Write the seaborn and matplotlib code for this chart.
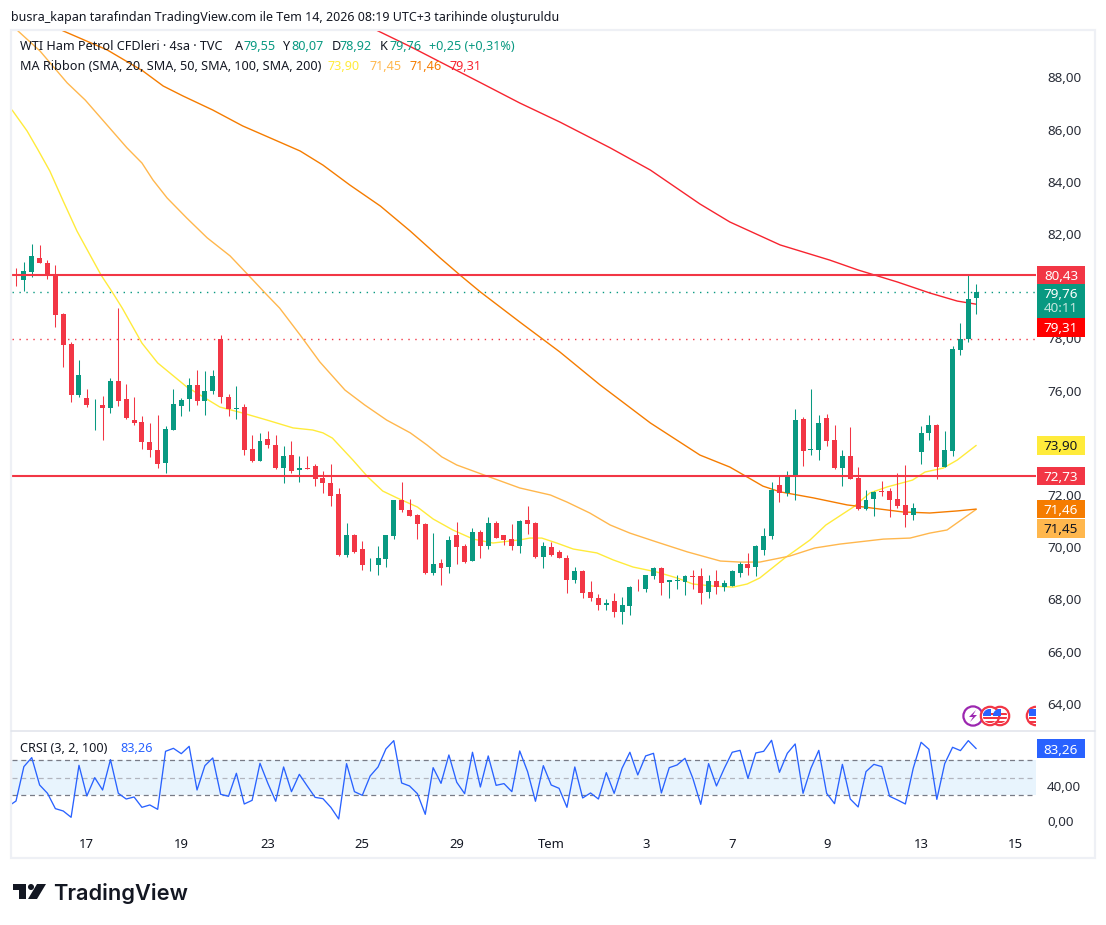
"""WTI crude 4h chart with MA ribbon and CRSI pane, TradingView look."""

import matplotlib.pyplot as plt
import numpy as np
import pandas as pd
import seaborn as sns
from matplotlib.patches import Circle, Polygon, Rectangle
from matplotlib.ticker import FuncFormatter

UP = "#089981"
DOWN = "#f23645"
TEXT = "#131722"
SCALE_TEXT = "#2a2e39"
BLUE = "#2962ff"
MA_COLORS = ["#ffeb3b", "#ffb74d", "#f57c00", "#f7242f"]
FONT = "Noto Sans"
SCALE_SIZE = 9.7

opens = [80.24, 80.22, 80.56, 81.08, 80.89, 80.43, 78.94, 77.78, 75.85, 75.73,
         75.43, 75.46, 75.32, 76.38, 75.69, 74.89, 74.81, 74.04, 73.74, 73.21,
         74.50, 75.40, 75.66, 76.22, 75.61, 76.00, 77.99, 75.77, 75.28, 75.38,
         73.78, 73.29, 74.16, 73.93, 73.05, 73.55, 72.97, 73.05, 73.12, 72.67,
         72.47, 72.02, 69.72, 70.48, 69.95, 69.34, 69.30, 69.53, 70.41, 71.79,
         71.44, 71.25, 70.87, 69.03, 69.41, 69.26, 70.48, 70.03, 69.49, 70.60,
         70.06, 70.91, 70.45, 70.33, 70.06, 71.06, 70.91, 69.64, 69.99, 69.80,
         69.60, 68.76, 69.07, 68.30, 68.04, 67.77, 67.92, 67.50, 67.73, 68.49,
         68.38, 68.88, 69.22, 68.65, 68.72, 68.65, 68.88, 68.88, 68.30, 68.72,
         68.49, 68.53, 69.03, 69.37, 69.26, 69.91, 70.41, 72.40, 72.09, 72.76,
         74.92, 73.74, 73.74, 74.96, 74.12, 73.05, 73.51, 72.67, 71.48, 71.83,
         72.17, 72.17, 71.86, 71.60, 71.25, 73.66, 74.39, 74.70, 73.09, 73.70,
         77.56, 77.99, 79.55]
closes = [80.22, 80.59, 81.16, 80.87, 80.43, 78.88, 77.73, 75.85, 76.61, 75.43,
          75.46, 75.32, 76.38, 75.61, 74.96, 74.77, 74.02, 73.71, 73.18, 74.54,
          75.50, 75.65, 76.22, 75.61, 76.00, 76.57, 75.74, 75.28, 75.35, 73.71,
          73.29, 74.08, 73.90, 73.05, 73.51, 72.93, 73.05, 73.01, 72.63, 72.47,
          71.98, 69.72, 70.48, 69.83, 69.30, 69.37, 69.57, 70.45, 71.79, 71.44,
          71.21, 70.87, 69.03, 69.37, 69.22, 70.26, 69.99, 69.45, 70.60, 70.03,
          70.91, 70.37, 70.29, 70.06, 71.02, 70.87, 69.64, 70.03, 69.72, 69.57,
          68.76, 69.07, 68.23, 68.04, 67.77, 67.88, 67.50, 67.77, 68.46, 68.46,
          68.92, 69.22, 68.61, 68.76, 68.76, 68.88, 68.84, 68.26, 68.69, 68.49,
          68.61, 69.07, 69.37, 69.22, 70.03, 70.41, 72.21, 72.09, 72.78, 74.89,
          73.70, 73.78, 74.77, 74.08, 73.05, 73.51, 72.63, 71.48, 71.79, 72.13,
          72.13, 71.79, 71.56, 71.25, 71.52, 74.39, 74.70, 73.09, 73.74, 77.60,
          77.99, 79.52, 79.76]
highs = [80.69, 80.91, 81.62, 81.58, 81.01, 80.82, 78.97, 77.85, 77.18, 76.07,
         75.69, 75.80, 76.48, 79.17, 76.26, 75.77, 75.04, 74.77, 75.08, 74.66,
         76.07, 75.73, 76.48, 76.80, 76.76, 76.80, 78.14, 75.88, 76.19, 75.50,
         74.31, 74.39, 74.47, 74.31, 73.89, 74.08, 73.51, 73.51, 73.20, 72.93,
         73.20, 72.28, 70.94, 70.52, 70.22, 69.60, 70.06, 70.48, 71.82, 72.51,
         71.86, 71.29, 70.91, 70.56, 69.53, 70.41, 70.98, 70.14, 70.75, 70.64,
         71.14, 71.02, 70.48, 70.87, 71.06, 71.59, 70.98, 70.18, 70.18, 69.91,
         69.72, 69.26, 69.11, 68.72, 68.19, 68.00, 68.23, 68.11, 68.53, 68.80,
         68.92, 69.26, 69.26, 68.76, 68.95, 68.92, 69.14, 69.22, 68.95, 69.14,
         68.76, 69.11, 69.45, 69.76, 70.10, 70.72, 72.51, 72.74, 72.93, 75.31,
         75.00, 76.07, 75.08, 75.12, 74.70, 73.74, 74.62, 73.09, 72.21, 72.17,
         72.55, 72.28, 72.86, 73.16, 71.71, 74.66, 75.08, 74.73, 74.46, 77.72,
         78.60, 80.43, 80.07]
lows = [79.99, 79.80, 80.37, 80.87, 80.29, 78.42, 76.89, 75.55, 75.74, 75.36,
        74.48, 74.10, 75.15, 75.40, 74.92, 74.67, 73.75, 73.44, 73.05, 72.83,
        74.50, 75.01, 75.20, 75.43, 75.05, 75.88, 75.51, 75.01, 74.90, 73.52,
        73.25, 73.29, 73.79, 73.01, 72.47, 72.86, 72.51, 73.01, 72.36, 72.09,
        71.56, 69.68, 69.64, 69.76, 69.11, 69.07, 68.92, 69.26, 70.33, 71.36,
        71.21, 70.33, 68.99, 68.95, 68.57, 69.03, 69.34, 69.41, 69.49, 69.60,
        69.95, 70.37, 70.10, 69.91, 69.76, 70.52, 69.57, 69.22, 69.68, 69.57,
        68.23, 68.61, 68.04, 67.92, 67.58, 67.58, 67.31, 67.04, 67.42, 68.34,
        68.30, 68.80, 68.15, 68.07, 68.38, 68.15, 68.38, 67.81, 68.07, 68.19,
        68.34, 68.53, 68.84, 68.95, 68.88, 69.72, 70.33, 71.75, 71.98, 71.80,
        73.13, 73.55, 73.36, 73.89, 73.01, 72.36, 72.63, 71.44, 71.44, 71.21,
        71.98, 71.17, 71.52, 70.79, 71.06, 73.20, 74.12, 72.63, 73.09, 73.51,
        77.37, 77.87, 78.92]

# moving averages, read at the bars where the curves bend
ma20_bars = [-0.5, 1.4, 2.8, 4.3, 6.0, 7.75, 9.4, 10.8, 12.3, 13.5, 16.0, 18.0,
             21.7, 25.9, 28.8, 31.9, 35.2, 37.7, 39.0, 40.2, 42.8, 44.7, 46.6,
             48.4, 51.0, 53.0, 55.5, 58.1, 60.6, 64.0, 65.3, 66.8, 68.7, 70.8,
             73.8, 75.9, 78.4, 81.4, 84.0, 86.0, 88.6, 91.1, 92.9, 94.5, 97.7,
             100.9, 102.9, 106.4, 108.5, 110.7, 113.9, 115.5, 117.8, 119.6, 122]
ma20_values = [86.75, 85.95, 85.22, 84.41, 83.26, 82.11, 81.20, 80.43, 79.74,
               79.16, 77.82, 77.06, 76.14, 75.37, 75.14, 74.87, 74.57, 74.49,
               74.38, 74.18, 73.34, 72.69, 72.15, 71.89, 71.54, 71.08, 70.66,
               70.31, 70.16, 70.28, 70.35, 70.35, 70.16, 69.93, 69.78, 69.51,
               69.24, 69.05, 68.82, 68.59, 68.51, 68.47, 68.59, 68.82, 69.59,
               70.28, 70.85, 71.54, 72.08, 72.31, 72.57, 72.88, 73.03, 73.34,
               73.90]
ma50_bars = [-1, 0.25, 3.05, 6.5, 8.8, 11.9, 14.1, 16, 17.4, 19.2, 21.7, 24.3,
             27.2, 29.5, 31.9, 33.5, 36.1, 38.6, 41.8, 44.3, 47.1, 50.1, 52.2,
             54.1, 56.0, 59.8, 64.0, 67.9, 70.0, 72.9, 75.5, 78.0, 81.4, 85.3,
             89.5, 92.0, 94.5, 98.3, 101.5, 104.7, 110.2, 113.6, 116.1, 118.3,
             122]
ma50_values = [90.20, 89.78, 89.01, 87.79, 87.13, 86.06, 85.30, 84.72, 84.07,
               83.38, 82.61, 81.85, 81.16, 80.43, 79.66, 79.16, 78.13, 77.10,
               76.02, 75.45, 74.87, 74.38, 73.92, 73.46, 73.15, 72.73, 72.27,
               72.00, 71.73, 71.31, 70.85, 70.54, 70.20, 69.82, 69.47, 69.43,
               69.43, 69.66, 69.97, 70.12, 70.31, 70.35, 70.54, 70.66, 71.45]
ma100_bars = [4.3, 6.0, 11.6, 16.1, 18.7, 21.2, 25.0, 28.8, 32.3, 36.1, 39.0,
              42.4, 46.3, 50.1, 53.9, 56.4, 59.0, 64.0, 69.1, 74.2, 80.6, 86.9,
              90.7, 92.9, 94.9, 97.1, 101.3, 105.6, 109.8, 112.7, 116.1, 119.6,
              122]
ma100_values = [90.05, 89.78, 89.05, 88.25, 87.67, 87.29, 86.75, 86.14, 85.68,
                85.18, 84.64, 83.88, 83.07, 82.11, 81.08, 80.43, 79.78, 78.63,
                77.48, 76.22, 74.76, 73.53, 73.07, 72.69, 72.34, 72.12, 71.89,
                71.62, 71.46, 71.35, 71.31, 71.39, 71.46]
ma200_bars = [44.3, 46.0, 50.1, 59.2, 64.0, 69.1, 75.5, 80.6, 86.9, 90.7, 97.1,
              103.4, 107.0, 112.0, 116.1, 119.6, 122]
ma200_values = [90.05, 89.78, 89.18, 87.77, 87.02, 86.29, 85.30, 84.45, 83.15,
                82.46, 81.58, 81.00, 80.62, 80.16, 79.74, 79.43, 79.31]

crsi_values = [17.3, 23.4, 62.7, 73.0, 41.7, 32.2, 14.7, 12.0, 4.8, 64.2, 29.2,
               50.1, 36.0, 70.7, 32.2, 25.7, 28.0, 16.2, 18.9, 13.9, 80.2, 83.6,
               77.5, 85.9, 36.0, 63.8, 72.6, 31.1, 28.8, 55.1, 20.0, 24.2, 66.5,
               43.6, 23.1, 62.3, 34.1, 53.9, 40.6, 27.6, 26.1, 16.2, 2.9, 66.1,
               34.1, 29.9, 52.0, 62.3, 82.9, 92.4, 44.0, 40.6, 31.8, 8.2, 61.5,
               43.6, 76.0, 44.8, 31.8, 79.1, 39.4, 74.9, 41.3, 43.3, 34.1, 80.6,
               57.0, 23.1, 63.8, 41.7, 37.9, 16.2, 62.3, 26.9, 32.6, 25.7, 55.8,
               32.2, 60.8, 79.1, 53.2, 74.9, 77.9, 32.6, 61.5, 64.6, 72.2, 49.3,
               19.6, 66.1, 40.6, 60.8, 79.1, 81.3, 49.3, 78.3, 80.2, 92.8, 56.2,
               77.9, 88.6, 32.2, 60.8, 81.3, 32.2, 20.4, 65.3, 25.7, 16.6, 57.0,
               65.3, 62.7, 28.8, 24.6, 20.0, 60.8, 90.5, 82.5, 25.3, 66.1, 84.8,
               81.0, 92.4, 83.26]

# 74 and 80 sit under the price tags in the reference, so they are not listed
price_ticks = [64, 66, 68, 70, 72, 76, 78, 82, 84, 86, 88]
resistance = 80.43
support = 72.73
last_price = 79.76
dotted_low = 77.97
date_bars = [9, 21, 32, 44, 56, 68, 80, 91, 103, 115, 127]
date_labels = ["17", "19", "23", "25", "29", "Tem", "3", "7", "9", "13", "15"]

W, H = 1106, 925
LEFT, RIGHT, PANE_TOP, SPLIT, PANE_BOTTOM = 12, 1036, 30, 730, 832


def comma(value, _pos=None):
    return f"{value:.2f}".replace(".", ",")


def tag(ax, y, height, text, face, color="white"):
    """Price tag on the right scale, y and height in the pane's value units."""
    ax.add_patch(Rectangle((1.0008, y - height / 2), 0.0472, height, facecolor=face,
                           edgecolor="none", transform=ax.get_yaxis_transform(),
                           clip_on=False, zorder=6))
    ax.text(1.0244, y, text, color=color, ha="center", va="center_baseline",
            fontsize=SCALE_SIZE, fontweight="medium", transform=ax.get_yaxis_transform(),
            clip_on=False, zorder=7)


def us_flag(ax, cx, cy, clip=None):
    ring = Circle((cx, cy), 9.2, facecolor="white", edgecolor="#f23645", lw=1.6, zorder=3)
    ax.add_patch(ring)
    parts = [Rectangle((cx - 7, cy + dy), 14, 2.2, facecolor="#f23645", edgecolor="none", zorder=4)
             for dy in (-3.2, 1.2, 4.6)]
    parts.append(Rectangle((cx - 7, cy - 7), 7.5, 6.6, facecolor="#2962ff", edgecolor="none", zorder=5))
    for part in parts:
        ax.add_patch(part)
        part.set_clip_path(Circle((cx, cy), 7.2, transform=ax.transData))
    if clip is not None:
        ring.set_clip_path(clip)
        for part in parts:
            part.set_clip_path(clip)


sns.set_theme(style="white")
plt.rcParams["font.family"] = [FONT, "DejaVu Sans"]
plt.rcParams["axes.unicode_minus"] = False

candles = pd.DataFrame({"open": opens, "close": closes, "high": highs, "low": lows})
candles["bar"] = candles.index
candles["color"] = np.where(candles["close"] >= candles["open"], UP, DOWN)

fig = plt.figure(figsize=(W / 100, H / 100), dpi=100, facecolor="white")
ax = fig.add_axes([LEFT / W, 1 - SPLIT / H, (RIGHT - LEFT) / W, (SPLIT - PANE_TOP) / H])
ax_crsi = fig.add_axes([LEFT / W, 1 - PANE_BOTTOM / H, (RIGHT - LEFT) / W, (PANE_BOTTOM - SPLIT - 1) / H])

# price pane
ma_series = [(ma20_bars, ma20_values), (ma50_bars, ma50_values),
             (ma100_bars, ma100_values), (ma200_bars, ma200_values)]
for (bars, values), color in zip(ma_series, MA_COLORS):
    sns.lineplot(x=bars, y=values, color=color, linewidth=1.0, ax=ax, sort=False, zorder=2)

ax.vlines(candles["bar"], candles["low"], candles["high"], colors=candles["color"],
          linewidth=0.75, zorder=3)
ax.bar(candles["bar"], (candles["close"] - candles["open"]).abs(),
       bottom=candles[["open", "close"]].min(axis=1), width=0.63,
       color=candles["color"], linewidth=0, zorder=3)

ax.axhline(resistance, color=DOWN, linewidth=1.5, zorder=4)
ax.axhline(support, color=DOWN, linewidth=1.5, zorder=4)
ax.axhline(last_price, color=UP, linewidth=1.0, linestyle=(0, (1, 4)), zorder=1)
ax.axhline(dotted_low, color=DOWN, linewidth=1.0, linestyle=(0, (1, 4)), zorder=1)

ax.set_xlim(-0.51, 129.6)
ax.set_ylim(62.996, 89.816)
ax.set_xticks([])
ax.set_xlabel("")
ax.yaxis.tick_right()
ax.set_yticks(price_ticks)
ax.yaxis.set_major_formatter(FuncFormatter(comma))
ax.tick_params(axis="y", length=0, pad=8, labelsize=SCALE_SIZE, labelcolor=SCALE_TEXT)
for side in ax.spines.values():
    side.set_visible(False)

tag(ax, 80.43, 0.72, "80,43", DOWN)
tag(ax, 79.43, 1.30, "", UP)
ax.text(1.0244, 79.75, "79,76", color="white", ha="center", va="center_baseline",
        fontsize=SCALE_SIZE, transform=ax.get_yaxis_transform(), zorder=7)
ax.text(1.0244, 79.20, "40:11", color="#c4e6de", ha="center", va="center_baseline",
        fontsize=SCALE_SIZE, transform=ax.get_yaxis_transform(), zorder=7)
tag(ax, 78.42, 0.72, "79,31", "#ff0000")
tag(ax, 73.90, 0.72, "73,90", "#ffeb3b", TEXT)
tag(ax, 72.73, 0.72, "72,73", DOWN)
tag(ax, 71.46, 0.72, "71,46", "#f57c00")
tag(ax, 70.73, 0.72, "71,45", "#ffb74d", TEXT)

# CRSI pane
ax_crsi.axhspan(30, 70, color="#2196f3", alpha=0.1, linewidth=0, zorder=0)
ax_crsi.axhline(70, color="#787b86", linewidth=0.9, linestyle=(0, (4, 3)), zorder=1)
ax_crsi.axhline(50, color="#b2b5be", linewidth=0.9, linestyle=(0, (4, 3)), zorder=1)
ax_crsi.axhline(30, color="#787b86", linewidth=0.9, linestyle=(0, (4, 3)), zorder=1)
sns.lineplot(x=np.arange(-1, len(crsi_values) - 1), y=crsi_values, color=BLUE,
             linewidth=0.95, ax=ax_crsi, zorder=2)
ax_crsi.set_xlim(ax.get_xlim())
ax_crsi.set_ylim(-12, 103.4)
ax_crsi.yaxis.tick_right()
ax_crsi.set_yticks([0, 40])
ax_crsi.yaxis.set_major_formatter(FuncFormatter(comma))
ax_crsi.tick_params(axis="y", length=0, pad=8, labelsize=SCALE_SIZE, labelcolor=SCALE_TEXT)
ax_crsi.set_xticks(date_bars)
ax_crsi.set_xticklabels(date_labels)
ax_crsi.tick_params(axis="x", length=0, pad=4, labelsize=9.4, labelcolor=TEXT)
ax_crsi.get_xticklabels()[date_labels.index("Tem")].set_fontweight("bold")
for side in ax_crsi.spines.values():
    side.set_visible(False)
tag(ax_crsi, 83.26, 21, "83,26", BLUE)

# everything outside the panes, in reference pixels
top = fig.add_axes([0, 0, 1, 1], zorder=10)
top.set_xlim(0, W)
top.set_ylim(H, 0)
top.set_axis_off()

top.add_patch(Rectangle((10.5, 29.5), 1084.5, 828.5, facecolor="none", edgecolor="#eef0f5", lw=1.6))
top.plot([11, 1095], [730.5, 730.5], color="#e0e3eb", lw=1.1)

top.text(11, 17, "busra_kapan tarafından TradingView.com ile Tem 14, 2026 08:19 UTC+3 tarihinde oluşturuldu",
         fontsize=9.0, color=TEXT, va="center")
legend_rows = [
    (47, [(20, "WTI Ham Petrol CFDleri · 4sa · TVC", TEXT), (235, "A", TEXT), (243, "79,55", UP),
          (283, "Y", TEXT), (291, "80,07", UP), (332, "D", TEXT), (340, "78,92", UP),
          (380, "K", TEXT), (389, "79,76", UP), (429, "+0,25 (+0,31%)", UP)]),
    (66, [(20, "MA Ribbon (SMA, 20, SMA, 50, SMA, 100, SMA, 200)", TEXT), (328, "73,90", MA_COLORS[0]),
          (369, "71,45", MA_COLORS[1]), (409, "71,46", MA_COLORS[2]), (450, "79,31", MA_COLORS[3])]),
    (749, [(20, "CRSI (3, 2, 100)", TEXT), (120, "83,26", BLUE)]),
]
for y, pieces in legend_rows:
    for x, label, color in pieces:
        top.text(x, y, label, fontsize=9.1, color=color, va="center")

# event icons at the right end of the time line
pane_clip = Rectangle((LEFT, PANE_TOP), RIGHT - LEFT, SPLIT - PANE_TOP, transform=top.transData)
top.add_patch(Circle((973, 716), 9.6, facecolor="white", edgecolor="#9c27b0", lw=1.6, zorder=2))
top.add_patch(Polygon([(976, 710), (969, 717), (973, 717), (970, 722), (977, 715), (973, 715)],
                      facecolor="#9c27b0", edgecolor="none", zorder=2))
us_flag(top, 1000, 716)
us_flag(top, 990, 716)
us_flag(top, 1036, 716, clip=pane_clip)

# logo
LOGO = "#131722"
top.add_patch(Polygon([(13, 884), (26, 884), (26, 899), (19, 899), (19, 890), (13, 890)],
                      facecolor=LOGO, edgecolor="none"))
top.add_patch(Circle((31, 887), 3, facecolor=LOGO, edgecolor="none"))
top.add_patch(Polygon([(37, 884), (46, 884), (37, 899), (28, 899)], facecolor=LOGO, edgecolor="none"))
top.text(53, 893, "TradingView", fontsize=15.7, fontweight="semibold", family="Inter",
         color=LOGO, va="center")

fig.savefig("out.png", dpi=100, facecolor="white")
